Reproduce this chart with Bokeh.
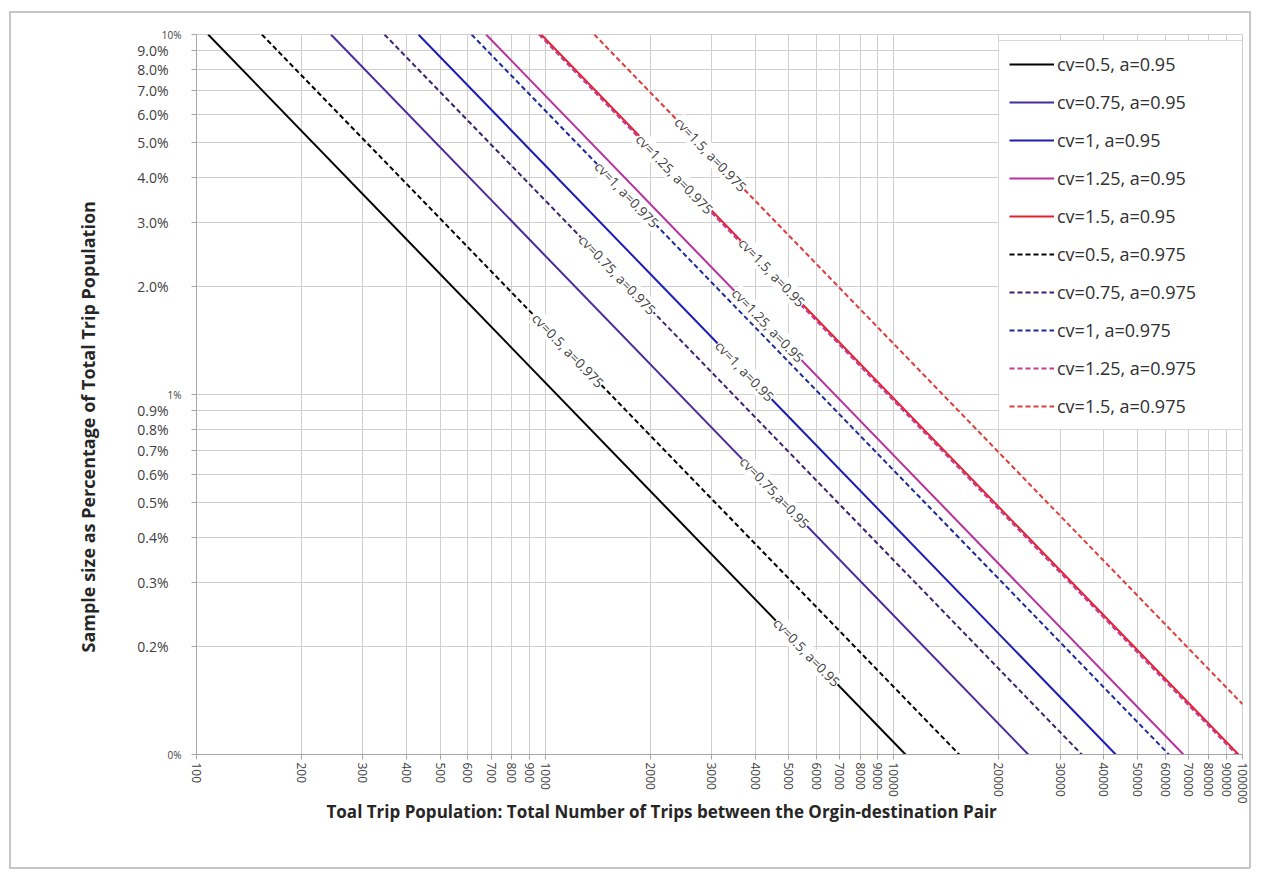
import math
from bokeh.plotting import figure
from bokeh.models import (FixedTicker, CustomJSTickFormatter, Legend, LegendItem, Label, LogAxis, Title)
from bokeh.embed import file_html
from bokeh.resources import INLINE

# ---------------- data ----------------
series_names = ["cv=0.5, a=0.95", "cv=0.75, a=0.95", "cv=1, a=0.95", "cv=1.25, a=0.95", "cv=1.5, a=0.95",
                "cv=0.5, a=0.975", "cv=0.75, a=0.975", "cv=1, a=0.975", "cv=1.25, a=0.975", "cv=1.5, a=0.975"]
# trip population where each curve enters the chart (at 10 %) and where it leaves it
trips_start = [108, 243, 433, 677, 974, 154, 346, 615, 960, 1383]
pct_start = [10, 10, 10, 10, 10, 10, 10, 10, 10, 10]
trips_end = [10800, 24300, 43300, 67700, 97400, 15400, 34600, 61500, 96000, 100000]
pct_end = [0.1, 0.1, 0.1, 0.1, 0.1, 0.1, 0.1, 0.1, 0.1, 0.138]

x_ticks = [100, 200, 300, 400, 500, 600, 700, 800, 900,
           1000, 2000, 3000, 4000, 5000, 6000, 7000, 8000, 9000,
           10000, 20000, 30000, 40000, 50000, 60000, 70000, 80000, 90000, 100000]
y_ticks = [0.1, 0.2, 0.3, 0.4, 0.5, 0.6, 0.7, 0.8, 0.9, 1, 2, 3, 4, 5, 6, 7, 8, 9, 10]
y_tick_labels = ["0%", "0.2%", "0.3%", "0.4%", "0.5%", "0.6%", "0.7%", "0.8%", "0.9%", "1%",
                 "2.0%", "3.0%", "4.0%", "5.0%", "6.0%", "7.0%", "8.0%", "9.0%", "10%"]
small_tick_labels = ["0%", "1%", "10%"]

x_title = "Toal Trip Population: Total Number of Trips between the Orgin-destination Pair"
y_title = "Sample size as Percentage of Total  Trip Population"

# in-chart labels: which series and at what percentage along the line
label_series = [9, 8, 7, 4, 6, 3, 2, 5, 1, 0]
label_pct = [4.64, 4.09, 3.59, 2.18, 2.15, 1.555, 1.16, 1.325, 0.534, 0.192]
label_texts = ["cv=1.5, a=0.975", "cv=1.25, a=0.975", "cv=1, a=0.975", "cv=1.5, a=0.95", "cv=0.75, a=0.975",
               "cv=1.25, a=0.95", "cv=1, a=0.95", "cv=0.5, a=0.975", "cv=0.75,a=0.95", "cv=0.5, a=0.95"]

# ---------------- styles ----------------
colors = ["#000000", "#4b2a9e", "#1c1cb4", "#b8309a", "#e8202e",
          "#000000", "#3a2470", "#1e2a9a", "#c03c96", "#e03a3a"]
dashes = ["solid"] * 5 + ["5 3"] * 5

W, H = 1252, 870
p = figure(width=W, height=H, x_axis_type="log", y_axis_type="log",
           x_range=(100, 100000), y_range=(0.1, 10),
           output_backend="svg", toolbar_location=None,
           min_border_left=196, min_border_right=10, min_border_top=34, min_border_bottom=116)
g = "linear-gradient(#c6c6c6,#c6c6c6)"
p.styles = {"background": (f"{g} 9px 11px / 2px {H - 13}px no-repeat, "
                           f"{g} 9px 11px / {W - 11}px 2px no-repeat, "
                           f"{g} {W - 3}px 11px / 2px {H - 13}px no-repeat, "
                           f"{g} 9px {H - 3}px / {W - 11}px 2px no-repeat, white")}
p.border_fill_color = None
p.outline_line_color = "#cfcfcf"
p.background_fill_color = "white"

lookup = """
let best = 0, bd = 1e9;
for (let i = 0; i < vals.length; i++) {
  const d = Math.abs(Math.log(vals[i]) - Math.log(tick));
  if (d < bd) { bd = d; best = i; }
}
return labs[best];
"""
small_only = [(s if s in small_tick_labels else "") for s in y_tick_labels]
big_only = [("" if s in small_tick_labels else s) for s in y_tick_labels]

p.xaxis.ticker = FixedTicker(ticks=x_ticks, minor_ticks=[])
p.xaxis.formatter = CustomJSTickFormatter(code="return Math.round(tick).toString();")

# inner y axis: line, ticks and the small "10%", "1%", "0%" labels
yin = p.yaxis[0]
yin.ticker = FixedTicker(ticks=y_ticks, minor_ticks=[])
yin.formatter = CustomJSTickFormatter(args=dict(vals=y_ticks, labs=small_only), code=lookup)
yin.major_label_text_font_size = "10px"
yin.major_label_standoff = 10

# outer y axis: the other tick labels, pulled back onto the same column
yout = LogAxis(ticker=FixedTicker(ticks=y_ticks, minor_ticks=[]),
               formatter=CustomJSTickFormatter(args=dict(vals=y_ticks, labs=big_only), code=lookup),
               axis_line_color=None, major_tick_line_color=None, minor_tick_line_color=None,
               major_tick_out=0, major_tick_in=0, major_label_standoff=-10,
               major_label_text_font_size="14px")
p.add_layout(yout, "left")

for ax in (p.xaxis[0], yin, yout):
    ax.major_tick_in = 0
    ax.minor_tick_line_color = None
    ax.major_label_text_font = "Open Sans"
    ax.major_label_text_color = "#404040"
for ax in (p.xaxis[0], yin):
    ax.major_tick_out = 5
    ax.axis_line_color = "#a6a6a6"
    ax.major_tick_line_color = "#a6a6a6"

p.xaxis.major_label_orientation = "vertical"
p.xaxis.major_label_text_font_size = "12px"
p.xaxis.major_label_standoff = 3

p.add_layout(Title(text=x_title, align="left", offset=130, standoff=-17,
                   text_font="Open Sans", text_font_style="bold", text_font_size="17px",
                   text_color="#262626"), "below")
p.add_layout(Title(text=y_title, align="left", offset=102, standoff=70,
                   text_font="Open Sans", text_font_style="bold", text_font_size="18px",
                   text_color="#262626"), "left")

p.xgrid.grid_line_color = "#cfcfcf"
p.ygrid.grid_line_color = "#cfcfcf"

renderers = []
for i, name in enumerate(series_names):
    r = p.line([trips_start[i], trips_end[i]], [pct_start[i], pct_end[i]],
               line_color=colors[i], line_width=2, line_dash=dashes[i])
    renderers.append(r)

angle = -math.atan2(360.0, 346.0)
for k, s in enumerate(label_series):
    xk = trips_start[s] * pct_start[s] / label_pct[k]
    p.add_layout(Label(x=xk, y=label_pct[k], text=label_texts[k], angle=angle,
                       text_align="center", text_baseline="middle",
                       text_font="Open Sans", text_font_size="13.5px", text_color="#404040",
                       background_fill_color="white", background_fill_alpha=1.0))

legend = Legend(items=[LegendItem(label=n, renderers=[r]) for n, r in zip(series_names, renderers)],
                location=(802, 324), margin=0, padding=10, spacing=12,
                glyph_width=45, glyph_height=26, label_height=26, label_width=176, label_standoff=3,
                label_text_font="Open Sans", label_text_font_size="18px", label_text_color="#303030",
                border_line_color="#b4b4b4", background_fill_color="white", background_fill_alpha=1.0)
p.add_layout(legend)

open("out.html", "w").write(file_html(p, INLINE))
